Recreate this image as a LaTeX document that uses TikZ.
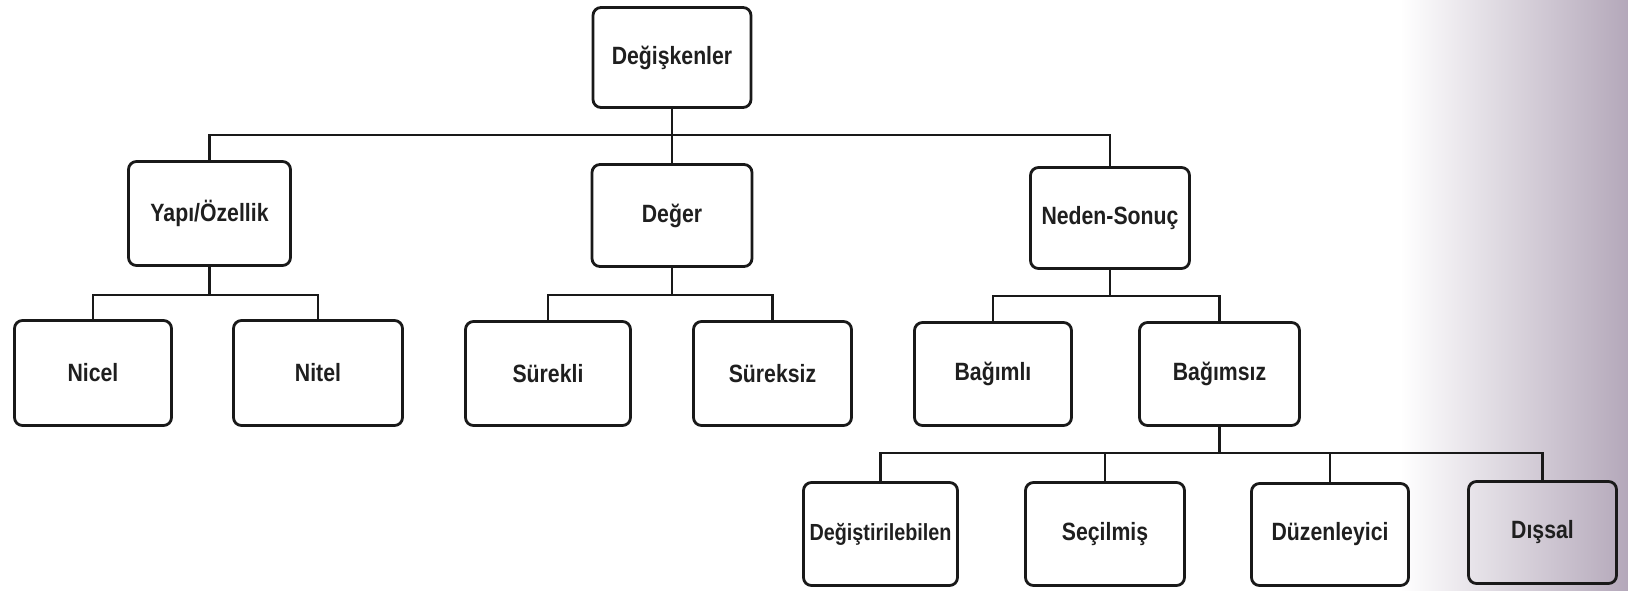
\documentclass[tikz,border=0pt]{standalone}
\usepackage{fontspec}
\setmainfont[FakeStretch=0.85]{Liberation Sans}
\definecolor{scanedge}{RGB}{180,168,186}
\begin{document}
\begin{tikzpicture}[x=1pt,y=-1pt,
  box/.style={draw=black!90, line width=2.8pt, rounded corners=8pt, inner sep=2pt,
    font=\fontsize{25}{29}\selectfont\bfseries, text=black!88},
  link/.style={draw=black!90, line width=2.6pt}]
\useasboundingbox (0,0) rectangle (1628,590);
\fill[white] (0,0) rectangle (1628,590);
\shade[left color=white, right color=scanedge] (1400,0) rectangle (1628,590);
% level 0
\node[box, minimum width=158pt, minimum height=100pt] (dk) at (672,57.5) {Değişkenler};
% level 1
\node[box, minimum width=162pt, minimum height=104pt] (yo) at (209.5,213.5) {Yapı/Özellik};
\node[box, minimum width=160pt, minimum height=102pt] (dg) at (672,215.5) {Değer};
\node[box, minimum width=159pt, minimum height=101pt] (ns) at (1110,218) {Neden-Sonuç};
% level 2
\node[box, minimum width=157pt, minimum height=105pt] (nicel) at (93,373) {Nicel};
\node[box, minimum width=169pt, minimum height=105pt] (nitel) at (318,373) {Nitel};
\node[box, minimum width=165pt, minimum height=104pt] (surekli) at (548,373.5) {Sürekli};
\node[box, minimum width=158pt, minimum height=104pt] (sureksiz) at (772.5,373.5) {Süreksiz};
\node[box, minimum width=157pt, minimum height=103pt] (bagimli) at (993,374) {Bağımlı};
\node[box, minimum width=160pt, minimum height=103pt] (bagimsiz) at (1219.5,374) {Bağımsız};
% level 3
\node[box, minimum width=154pt, minimum height=103pt, font=\fontsize{23.3}{27}\selectfont\bfseries] (degist) at (880.5,534) {Değiştirilebilen};
\node[box, minimum width=159pt, minimum height=103pt] (secilmis) at (1105,534) {Seçilmiş};
\node[box, minimum width=157pt, minimum height=102pt] (duzen) at (1330,534.5) {Düzenleyici};
\node[box, minimum width=148pt, minimum height=102pt] (dissal) at (1542.5,532.5) {Dışsal};
% bus coordinates
\coordinate (b0) at (0,135);
\coordinate (b1) at (0,295);
\coordinate (b2) at (0,296);
\coordinate (b3) at (0,453);
% connectors
\draw[link] (dk.south) -- (dg.north);
\draw[link] (yo.north) -- (yo.north |- b0) -- (ns.north |- b0) -- (ns.north);
\draw[link] (yo.south) -- (yo.south |- b1);
\draw[link] (nicel.north) -- (nicel.north |- b1) -- (nitel.north |- b1) -- (nitel.north);
\draw[link] (dg.south) -- (dg.south |- b1);
\draw[link] (surekli.north) -- (surekli.north |- b1) -- (sureksiz.north |- b1) -- (sureksiz.north);
\draw[link] (ns.south) -- (ns.south |- b2);
\draw[link] (bagimli.north) -- (bagimli.north |- b2) -- (bagimsiz.north |- b2) -- (bagimsiz.north);
\draw[link] (bagimsiz.south) -- (bagimsiz.south |- b3);
\draw[link] (degist.north) -- (degist.north |- b3) -- (dissal.north |- b3) -- (dissal.north);
\draw[link] (secilmis.north) -- (secilmis.north |- b3);
\draw[link] (duzen.north) -- (duzen.north |- b3);
\end{tikzpicture}
\end{document}
